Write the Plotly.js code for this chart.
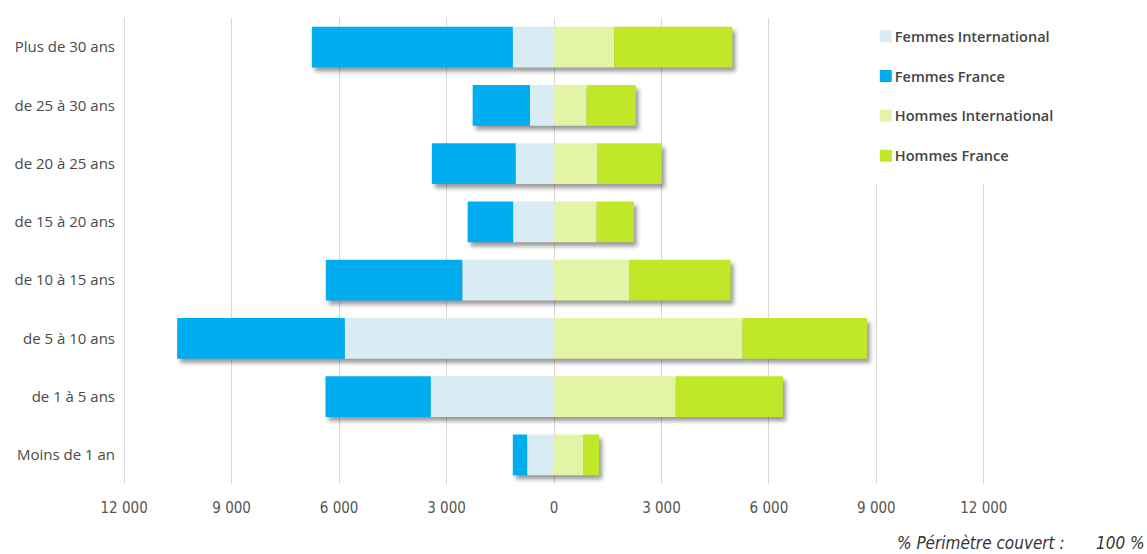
<!DOCTYPE html>
<html>
<head>
<meta charset="utf-8">
<script src="https://cdn.plot.ly/plotly-3.0.1.min.js"></script>
<style>
  html, body { margin: 0; padding: 0; background: #ffffff; }
  #chart { width: 1147px; height: 554px; }
  /* soft drop shadow under each stacked bar */
  #chart .barlayer { filter: drop-shadow(3px 4px 2px rgba(0, 0, 0, 0.4)); }
</style>
</head>
<body>
<div id="chart"></div>
<script>
// Seniority bands, top to bottom
const categories = [
  'Plus de 30 ans', 'de 25 à 30 ans', 'de 20 à 25 ans', 'de 15 à 20 ans',
  'de 10 à 15 ans', 'de 5 à 10 ans', 'de 1 à 5 ans', 'Moins de 1 an'
];

// Headcount per band
const femmesInternational = [1150, 670, 1070, 1140, 2560, 5840, 3440, 750];
const femmesFrance        = [5610, 1600, 2340, 1270, 3810, 4680, 2940, 400];
const hommesInternational = [1680, 910, 1210, 1190, 2100, 5260, 3400, 810];
const hommesFrance        = [3300, 1370, 1800, 1040, 2830, 3480, 2990, 450];

// Axis ticks: women are plotted to the left of zero
const tickValues = [-12000, -9000, -6000, -3000, 0, 3000, 6000, 9000, 12000];
const tickLabels = ['12 000', '9 000', '6 000', '3 000', '0', '3 000', '6 000', '9 000', '12 000'];

const colors = {
  femmesInternational: '#d9ebf3',
  femmesFrance: '#00aeef',
  hommesInternational: '#e3f4a6',
  hommesFrance: '#c0e828'
};

const neg = arr => arr.map(v => -v);

function barTrace(name, values, color, group) {
  return {
    type: 'bar',
    orientation: 'h',
    name: name,
    y: categories,
    x: values,
    legendgroup: group,
    marker: { color: color, line: { width: 0 } },
    hoverinfo: 'skip'
  };
}

const data = [
  barTrace('Femmes International', neg(femmesInternational), colors.femmesInternational, 'g1'),
  barTrace('Femmes France', neg(femmesFrance), colors.femmesFrance, 'g2'),
  barTrace('Hommes International', hommesInternational, colors.hommesInternational, 'g3'),
  barTrace('Hommes France', hommesFrance, colors.hommesFrance, 'g4')
];

const narrow = 'Liberation Sans Narrow, DejaVu Sans Condensed, sans-serif';
const labelFont = 'Open Sans, Noto Sans, sans-serif';

const layout = {
  width: 1147,
  height: 554,
  margin: { l: 122, r: 161, t: 18, b: 70, autoexpand: false },
  paper_bgcolor: '#ffffff',
  plot_bgcolor: '#ffffff',
  barmode: 'relative',
  bargap: 0.3,
  showlegend: true,
  font: { family: labelFont, color: '#444444' },
  xaxis: {
    // a hair wider than ±12 000 so the outer gridlines stay visible
    range: [-12060, 12060],
    tickmode: 'array',
    tickvals: tickValues,
    ticktext: tickLabels,
    showgrid: true,
    gridcolor: '#d9d9d9',
    gridwidth: 1,
    zeroline: false,
    showline: false,
    ticks: 'outside',
    ticklen: 10,
    tickcolor: 'rgba(0,0,0,0)',
    tickfont: { family: narrow, size: 15, color: '#555555' },
    fixedrange: true
  },
  yaxis: {
    type: 'category',
    autorange: 'reversed',
    showgrid: false,
    zeroline: false,
    showline: false,
    ticks: 'outside',
    ticklen: 3,
    tickcolor: 'rgba(0,0,0,0)',
    tickfont: { family: labelFont, size: 15, color: '#4a4a4a' },
    fixedrange: true
  },
  legend: {
    x: 0.847,
    xanchor: 'left',
    y: 1.021,
    yanchor: 'top',
    bgcolor: '#ffffff',
    bordercolor: '#ffffff',
    borderwidth: 12,
    traceorder: 'grouped',
    tracegroupgap: 18,
    itemclick: false,
    itemdoubleclick: false,
    font: { family: labelFont, size: 14.5, color: '#444444', weight: 600 }
  },
  annotations: [
    {
      xref: 'paper', yref: 'paper',
      x: 1.0937, y: -0.127,
      xanchor: 'right', yanchor: 'middle',
      text: '<i>% Périmètre couvert :</i>',
      showarrow: false,
      font: { family: narrow, size: 17, color: '#333333' }
    },
    {
      xref: 'paper', yref: 'paper',
      x: 1.1866, y: -0.127,
      xanchor: 'right', yanchor: 'middle',
      text: '<i>100 %</i>',
      showarrow: false,
      font: { family: narrow, size: 17, color: '#333333' }
    }
  ]
};

Plotly.newPlot('chart', data, layout, { displayModeBar: false, staticPlot: true }).then(gd => {
  // pull legend labels in closer to their colour swatches
  gd.querySelectorAll('.legend .legendtext').forEach(t => t.setAttribute('x', 29));
});
</script>
</body>
</html>
